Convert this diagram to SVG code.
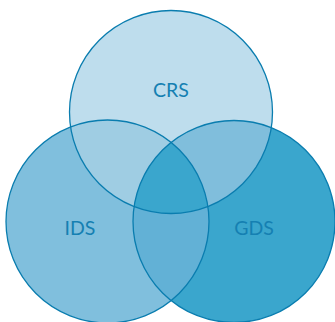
<svg xmlns="http://www.w3.org/2000/svg" width="335" height="322" viewBox="0 0 335 322">
<defs>
<style>
.o{fill:none;stroke:#0A7DAF;stroke-width:1.3}
.t{font-family:Lato,"Open Sans",sans-serif;font-size:19.5px;text-anchor:middle;fill:#1580B2}
</style>
<clipPath id="cC"><circle cx="171" cy="112" r="101.5"/></clipPath>
<clipPath id="cI"><circle cx="107.5" cy="221.5" r="101.5"/></clipPath>
<clipPath id="cG"><circle cx="234" cy="221.5" r="101"/></clipPath>
</defs>
<rect width="335" height="322" fill="#FFFFFF"/>
<g id="regions">
<circle cx="171" cy="112" r="101.5" fill="#BEDDED"/>
<circle cx="107.5" cy="221.5" r="101.5" fill="#80BFDD"/>
<circle cx="234" cy="221.5" r="101" fill="#3AA6CD"/>
<circle cx="107.5" cy="221.5" r="101.5" fill="#9FCDE3" clip-path="url(#cC)"/>
<circle cx="234" cy="221.5" r="101" fill="#80BEDC" clip-path="url(#cC)"/>
<circle cx="234" cy="221.5" r="101" fill="#62B1D6" clip-path="url(#cI)"/>
<g clip-path="url(#cC)"><circle cx="234" cy="221.5" r="101" fill="#3AA6CD" clip-path="url(#cI)"/></g>
</g>
<g id="CRS"><circle class="o" cx="171" cy="112" r="101.5"/><text class="t" x="171" y="97">CRS</text></g>
<g id="IDS"><circle class="o" cx="107.5" cy="221.5" r="101.5"/><text class="t" x="80" y="235">IDS</text></g>
<g id="GDS"><circle class="o" cx="234" cy="221.5" r="101"/><text class="t" x="254" y="235">GDS</text></g>
</svg>
